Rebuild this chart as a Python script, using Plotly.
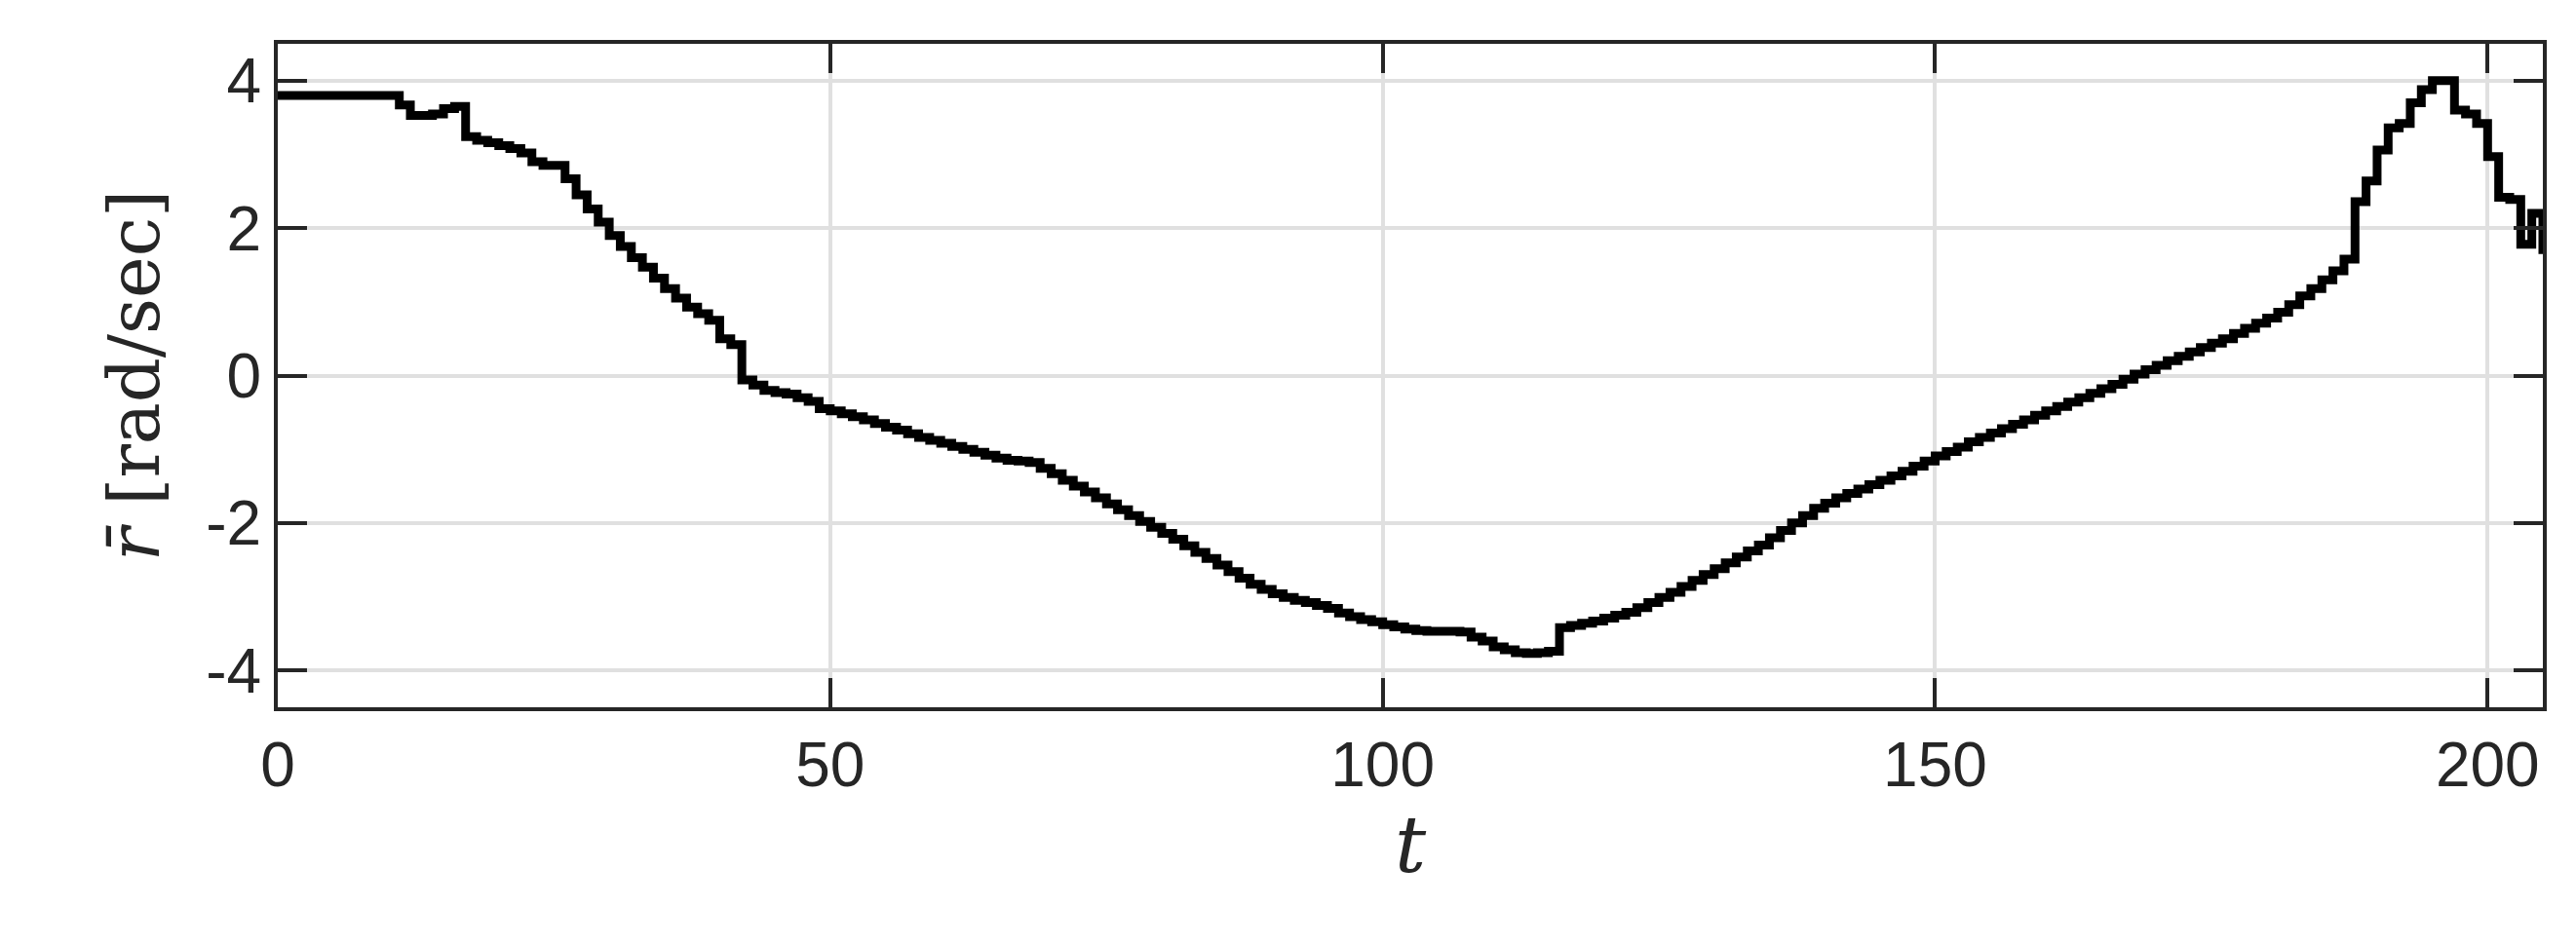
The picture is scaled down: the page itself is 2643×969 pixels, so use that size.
import plotly.graph_objects as go

t = list(range(0, 206))
r = [3.8]*11 + [
 3.67, 3.53, 3.53, 3.55, 3.62, 3.65, 3.24, 3.19, 3.16,
 3.12, 3.08, 3.02, 2.9, 2.85, 2.85, 2.67, 2.45, 2.26, 2.08,
 1.9, 1.75, 1.6, 1.47, 1.32, 1.18, 1.05, 0.93, 0.84, 0.75,
 0.5, 0.42, -0.06, -0.13, -0.2, -0.23, -0.25, -0.3, -0.35, -0.45,
 -0.48, -0.52, -0.56, -0.6, -0.65, -0.7, -0.74, -0.79, -0.84, -0.88,
 -0.92, -0.96, -1.0, -1.04, -1.08, -1.12, -1.15, -1.16, -1.18, -1.26,
 -1.33, -1.42, -1.5, -1.58, -1.66, -1.74, -1.82, -1.9, -1.98, -2.06,
 -2.14, -2.22, -2.31, -2.4, -2.48, -2.57, -2.66, -2.75, -2.83, -2.9,
 -2.96, -3.01, -3.05, -3.08, -3.12, -3.16, -3.22, -3.27, -3.31, -3.34,
 -3.38, -3.41, -3.44, -3.46, -3.47, -3.47, -3.47, -3.48, -3.55, -3.6,
 -3.68, -3.72, -3.76, -3.77, -3.76, -3.74, -3.42, -3.39, -3.36, -3.33,
 -3.29, -3.25, -3.21, -3.15, -3.08, -3.01, -2.94, -2.86, -2.78, -2.7,
 -2.62, -2.54, -2.46, -2.38, -2.3, -2.2, -2.1, -2.0, -1.9, -1.8,
 -1.73, -1.66, -1.6, -1.54, -1.48, -1.42, -1.36, -1.3, -1.23, -1.16,
 -1.09, -1.03, -0.97, -0.9, -0.84, -0.78, -0.72, -0.66, -0.6, -0.54,
 -0.48, -0.42, -0.36, -0.3, -0.24, -0.18, -0.12, -0.05, 0.02, 0.08,
 0.14, 0.2, 0.26, 0.32, 0.38, 0.44, 0.5, 0.57, 0.64, 0.71,
 0.78, 0.86, 0.96, 1.08, 1.18, 1.3, 1.42, 1.58, 2.36, 2.64,
 3.06, 3.36, 3.42, 3.7, 3.88, 4.0, 4.0, 3.6, 3.55, 3.42,
 2.97, 2.42, 2.39, 1.78, 2.2, 1.65]

xticks = [0, 50, 100, 150, 200]
yticks = [-4, -2, 0, 2, 4]
ytick_labels = ["-4", "-2", "0", "2", "4"]

fig = go.Figure(go.Scatter(x=t, y=r, mode="lines", line_shape="hv",
                           line=dict(color="black", width=9)))

axcommon = dict(showline=True, linecolor="#262626", linewidth=4, mirror="ticks",
                ticks="inside", ticklen=30, tickwidth=4, tickcolor="#262626",
                showgrid=True, gridcolor="#e0e0e0", gridwidth=4, zeroline=False,
                tickfont=dict(family="Liberation Sans", size=64, color="#262626"))
fig.update_layout(
    width=2643, height=969, plot_bgcolor="white", paper_bgcolor="white",
    margin=dict(l=277, r=42, t=37, b=251), showlegend=False,
    xaxis=dict(range=[0, 205], tickvals=xticks, title=dict(text="<i>t</i>", standoff=15,
               font=dict(family="DejaVu Serif", size=80, color="#262626")), **axcommon),
    yaxis=dict(range=[-4.5, 4.5], tickvals=yticks, ticktext=ytick_labels,
               title=dict(text="<i>r̄</i> [rad/sec]", standoff=25,
               font=dict(family="DejaVu Serif", size=72, color="#262626")), **axcommon),
)
fig.write_html("out.html")
